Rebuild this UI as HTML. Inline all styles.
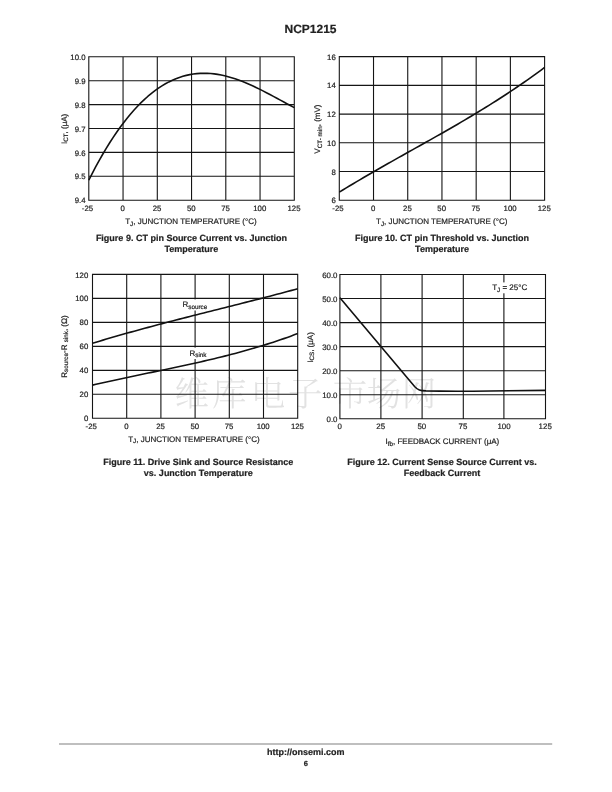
<!DOCTYPE html>
<html lang="en"><head><meta charset="utf-8"><title>NCP1215</title>
<style>
html,body{margin:0;padding:0;background:#fff;}
body{width:612px;height:792px;overflow:hidden;position:relative;}
svg{position:absolute;left:0;top:0;display:block;}
text{font-family:"Liberation Sans","Noto Sans CJK SC",sans-serif;fill:#222;stroke:#222;stroke-width:0.2px;text-rendering:geometricPrecision;}
.k{font-size:7.8px;}
.k4{font-size:7.9px;}
.t{font-size:8px;}
.s{font-size:6.3px;}
.b{font-weight:bold;}
.cap{font-size:9px;font-weight:bold;}
.g{stroke:#151515;stroke-width:1.1;fill:none;}
.c{stroke:#111;stroke-width:1.6;fill:none;stroke-linejoin:round;}
.wm{stroke:none;font-family:"Noto Serif CJK SC","Noto Sans CJK SC",serif;font-weight:300;font-size:34.5px;fill:#e2e2e2;}
</style></head><body>
<svg width="612" height="792" viewBox="0 0 612 792">

<text class="wm" y="406" x="174.4 212.1 250.75 288.1 332.65 366.75 401.65">维库电子市场网</text>
<text class="b" x="310.5" y="33.3" text-anchor="middle" style="font-size:12px">NCP1215</text>
<path class="g" d="M88.80 56.30V200.70M123.05 56.30V200.70M157.30 56.30V200.70M191.55 56.30V200.70M225.80 56.30V200.70M260.05 56.30V200.70M294.30 56.30V200.70M88.30 56.80H294.80M88.30 80.70H294.80M88.30 104.60H294.80M88.30 128.50H294.80M88.30 152.40H294.80M88.30 176.30H294.80M88.30 200.20H294.80"/>
<text class="k" x="87.50" y="211.00" text-anchor="middle">-25</text>
<text class="k" x="122.75" y="211.00" text-anchor="middle">0</text>
<text class="k" x="157.00" y="211.00" text-anchor="middle">25</text>
<text class="k" x="191.25" y="211.00" text-anchor="middle">50</text>
<text class="k" x="225.50" y="211.00" text-anchor="middle">75</text>
<text class="k" x="259.75" y="211.00" text-anchor="middle">100</text>
<text class="k" x="294.00" y="211.00" text-anchor="middle">125</text>
<text class="k" x="85.50" y="59.90" text-anchor="end">10.0</text>
<text class="k" x="85.50" y="83.80" text-anchor="end">9.9</text>
<text class="k" x="85.50" y="107.70" text-anchor="end">9.8</text>
<text class="k" x="85.50" y="131.60" text-anchor="end">9.7</text>
<text class="k" x="85.50" y="155.50" text-anchor="end">9.6</text>
<text class="k" x="85.50" y="179.40" text-anchor="end">9.5</text>
<text class="k" x="85.50" y="203.30" text-anchor="end">9.4</text>
<path class="c" d="M88.80 180.11L92.28 173.27L95.77 166.67L99.25 160.33L102.73 154.23L106.22 148.37L109.70 142.75L113.18 137.37L116.66 132.23L120.15 127.32L123.63 122.65L127.11 118.20L130.60 113.98L134.08 109.99L137.56 106.22L141.05 102.67L144.53 99.34L148.01 96.23L151.49 93.33L154.98 90.64L158.46 88.16L161.94 85.88L165.43 83.80L168.91 81.92L172.39 80.24L175.88 78.74L179.36 77.44L182.84 76.32L186.33 75.38L189.81 74.62L193.29 74.03L196.77 73.61L200.26 73.36L203.74 73.27L207.22 73.33L210.71 73.54L214.19 73.89L217.67 74.39L221.16 75.02L224.64 75.78L228.12 76.67L231.61 77.67L235.09 78.79L238.57 80.01L242.05 81.32L245.54 82.73L249.02 84.23L252.50 85.80L255.99 87.44L259.47 89.14L262.95 90.89L266.44 92.69L269.92 94.53L273.40 96.40L276.88 98.28L280.37 100.17L283.85 102.07L287.33 103.95L290.82 105.81L294.30 107.64"/>
<text class="t" x="125.2" y="223.8">T<tspan class="s" dy="1.8">J</tspan><tspan dy="-1.8">, JUNCTION TEMPERATURE (°C)</tspan></text>
<text class="t" transform="translate(66.5,128.9) rotate(-90)" text-anchor="middle">I<tspan class="s" dy="1.8">CT</tspan><tspan dy="-1.8">, (μA)</tspan></text>
<text class="cap" x="191.4" y="241.1" text-anchor="middle">Figure 9. CT pin Source Current vs. Junction</text>
<text class="cap" x="191.4" y="252.1" text-anchor="middle">Temperature</text>
<path class="g" d="M339.30 56.10V200.80M373.52 56.10V200.80M407.73 56.10V200.80M441.95 56.10V200.80M476.17 56.10V200.80M510.38 56.10V200.80M544.60 56.10V200.80M338.80 56.60H545.10M338.80 85.34H545.10M338.80 114.08H545.10M338.80 142.82H545.10M338.80 171.56H545.10M338.80 200.30H545.10"/>
<text class="k" x="338.00" y="211.00" text-anchor="middle">-25</text>
<text class="k" x="373.22" y="211.00" text-anchor="middle">0</text>
<text class="k" x="407.43" y="211.00" text-anchor="middle">25</text>
<text class="k" x="441.65" y="211.00" text-anchor="middle">50</text>
<text class="k" x="475.87" y="211.00" text-anchor="middle">75</text>
<text class="k" x="510.08" y="211.00" text-anchor="middle">100</text>
<text class="k" x="544.30" y="211.00" text-anchor="middle">125</text>
<text class="k" x="335.80" y="59.70" text-anchor="end">16</text>
<text class="k" x="335.80" y="88.44" text-anchor="end">14</text>
<text class="k" x="335.80" y="117.18" text-anchor="end">12</text>
<text class="k" x="335.80" y="145.92" text-anchor="end">10</text>
<text class="k" x="335.80" y="174.66" text-anchor="end">8</text>
<text class="k" x="335.80" y="203.40" text-anchor="end">6</text>
<path class="c" d="M339.30 192.16L342.78 190.02L346.26 187.90L349.74 185.80L353.22 183.71L356.70 181.64L360.18 179.59L363.66 177.54L367.14 175.51L370.62 173.50L374.10 171.49L377.58 169.49L381.06 167.50L384.54 165.52L388.02 163.55L391.49 161.58L394.97 159.62L398.45 157.66L401.93 155.71L405.41 153.76L408.89 151.81L412.37 149.86L415.85 147.91L419.33 145.96L422.81 144.01L426.29 142.05L429.77 140.10L433.25 138.13L436.73 136.16L440.21 134.19L443.69 132.21L447.17 130.22L450.65 128.22L454.13 126.21L457.61 124.19L461.09 122.16L464.57 120.11L468.05 118.05L471.53 115.98L475.01 113.89L478.49 111.78L481.97 109.66L485.45 107.52L488.93 105.36L492.41 103.18L495.88 100.98L499.36 98.76L502.84 96.51L506.32 94.24L509.80 91.95L513.28 89.63L516.76 87.28L520.24 84.91L523.72 82.51L527.20 80.08L530.68 77.62L534.16 75.13L537.64 72.60L541.12 70.05L544.60 67.46"/>
<text class="t" x="376" y="223.8">T<tspan class="s" dy="1.8">J</tspan><tspan dy="-1.8">, JUNCTION TEMPERATURE (°C)</tspan></text>
<text class="t" transform="translate(320,129.1) rotate(-90)" text-anchor="middle">V<tspan class="s" dy="1.8">CT- min</tspan><tspan dy="-1.8">, (mV)</tspan></text>
<text class="cap" x="442" y="241.1" text-anchor="middle">Figure 10. CT pin Threshold vs. Junction</text>
<text class="cap" x="442" y="252.1" text-anchor="middle">Temperature</text>
<path class="g" d="M92.50 273.90V418.80M126.70 273.90V418.80M160.90 273.90V418.80M195.10 273.90V418.80M229.30 273.90V418.80M263.50 273.90V418.80M297.70 273.90V418.80M92.00 274.40H298.20M92.00 298.38H298.20M92.00 322.37H298.20M92.00 346.35H298.20M92.00 370.33H298.20M92.00 394.32H298.20M92.00 418.30H298.20"/>
<text class="k" x="91.20" y="428.70" text-anchor="middle">-25</text>
<text class="k" x="126.40" y="428.70" text-anchor="middle">0</text>
<text class="k" x="160.60" y="428.70" text-anchor="middle">25</text>
<text class="k" x="194.80" y="428.70" text-anchor="middle">50</text>
<text class="k" x="229.00" y="428.70" text-anchor="middle">75</text>
<text class="k" x="263.20" y="428.70" text-anchor="middle">100</text>
<text class="k" x="297.40" y="428.70" text-anchor="middle">125</text>
<text class="k" x="88.30" y="277.50" text-anchor="end">120</text>
<text class="k" x="88.30" y="301.48" text-anchor="end">100</text>
<text class="k" x="88.30" y="325.47" text-anchor="end">80</text>
<text class="k" x="88.30" y="349.45" text-anchor="end">60</text>
<text class="k" x="88.30" y="373.43" text-anchor="end">40</text>
<text class="k" x="88.30" y="397.42" text-anchor="end">20</text>
<text class="k" x="88.30" y="421.40" text-anchor="end">0</text>
<rect x="181" y="299.4" width="28" height="11.1" fill="#fff"/>
<rect x="188" y="347.6" width="20" height="11.4" fill="#fff"/>
<path class="c" d="M92.50 343.26L95.98 342.21L99.46 341.16L102.93 340.12L106.41 339.09L109.89 338.07L113.37 337.06L116.85 336.05L120.32 335.06L123.80 334.07L127.28 333.09L130.76 332.12L134.24 331.16L137.71 330.20L141.19 329.25L144.67 328.30L148.15 327.36L151.63 326.43L155.10 325.50L158.58 324.58L162.06 323.66L165.54 322.75L169.02 321.84L172.49 320.94L175.97 320.04L179.45 319.14L182.93 318.25L186.41 317.36L189.88 316.47L193.36 315.58L196.84 314.70L200.32 313.82L203.79 312.94L207.27 312.06L210.75 311.18L214.23 310.31L217.71 309.43L221.18 308.55L224.66 307.68L228.14 306.80L231.62 305.92L235.10 305.04L238.57 304.17L242.05 303.28L245.53 302.40L249.01 301.52L252.49 300.63L255.96 299.74L259.44 298.85L262.92 297.95L266.40 297.05L269.88 296.15L273.35 295.24L276.83 294.33L280.31 293.42L283.79 292.50L287.27 291.57L290.74 290.64L294.22 289.70L297.70 288.76"/>
<path class="c" d="M92.50 385.11L95.98 384.31L99.46 383.51L102.93 382.73L106.41 381.95L109.89 381.18L113.37 380.42L116.85 379.67L120.32 378.92L123.80 378.18L127.28 377.44L130.76 376.71L134.24 375.98L137.71 375.25L141.19 374.53L144.67 373.80L148.15 373.08L151.63 372.36L155.10 371.64L158.58 370.92L162.06 370.19L165.54 369.46L169.02 368.73L172.49 368.00L175.97 367.26L179.45 366.52L182.93 365.77L186.41 365.02L189.88 364.25L193.36 363.48L196.84 362.71L200.32 361.92L203.79 361.12L207.27 360.32L210.75 359.50L214.23 358.67L217.71 357.83L221.18 356.97L224.66 356.10L228.14 355.22L231.62 354.32L235.10 353.41L238.57 352.48L242.05 351.53L245.53 350.57L249.01 349.59L252.49 348.59L255.96 347.57L259.44 346.53L262.92 345.46L266.40 344.38L269.88 343.27L273.35 342.15L276.83 340.99L280.31 339.82L283.79 338.62L287.27 337.39L290.74 336.14L294.22 334.86L297.70 333.55"/>
<text class="t" x="128.2" y="441.5">T<tspan class="s" dy="1.8">J</tspan><tspan dy="-1.8">, JUNCTION TEMPERATURE (°C)</tspan></text>
<text class="t" transform="translate(66.5,346.5) rotate(-90)" text-anchor="middle">R<tspan class="s" dy="1.8">source</tspan><tspan dy="-1.8">-R </tspan><tspan class="s" dy="1.8">sink</tspan><tspan dy="-1.8">, (Ω)</tspan></text>
<text class="t" x="182.5" y="306.8">R<tspan class="s" dy="1.8">source</tspan></text>
<text class="t" x="189.5" y="355.6">R<tspan class="s" dy="1.8">sink</tspan></text>
<text class="cap" x="198.3" y="464.6" text-anchor="middle">Figure 11. Drive Sink and Source Resistance</text>
<text class="cap" x="198.3" y="475.6" text-anchor="middle">vs. Junction Temperature</text>
<path class="g" d="M339.90 274.00V419.30M380.90 274.00V419.30M422.10 274.00V419.30M463.30 274.00V419.30M503.90 274.00V419.30M545.50 274.00V419.30M339.40 274.50H546.00M339.40 298.55H546.00M339.40 322.60H546.00M339.40 346.65H546.00M339.40 370.70H546.00M339.40 394.75H546.00M339.40 418.80H546.00"/>
<text class="k4" x="339.60" y="428.60" text-anchor="middle">0</text>
<text class="k4" x="380.72" y="428.60" text-anchor="middle">25</text>
<text class="k4" x="421.84" y="428.60" text-anchor="middle">50</text>
<text class="k4" x="462.96" y="428.60" text-anchor="middle">75</text>
<text class="k4" x="504.08" y="428.60" text-anchor="middle">100</text>
<text class="k4" x="545.20" y="428.60" text-anchor="middle">125</text>
<text class="k4" x="337.50" y="277.60" text-anchor="end">60.0</text>
<text class="k4" x="337.50" y="301.65" text-anchor="end">50.0</text>
<text class="k4" x="337.50" y="325.70" text-anchor="end">40.0</text>
<text class="k4" x="337.50" y="349.75" text-anchor="end">30.0</text>
<text class="k4" x="337.50" y="373.80" text-anchor="end">20.0</text>
<text class="k4" x="337.50" y="397.85" text-anchor="end">10.0</text>
<text class="k4" x="337.50" y="421.90" text-anchor="end">0.0</text>
<path class="c" d="M339.9 297.7L414.8 386.7C418 390 420 390.6 426 390.9C440 391.2 470 391.2 490 391C510 390.8 530 390.5 545.5 390.4"/>
<rect x="490" y="282.4" width="39" height="10.9" fill="#fff"/>
<text class="t" x="492.2" y="290">T<tspan class="s" dy="1.8">J</tspan><tspan dy="-1.8"> = 25°C</tspan></text>
<text class="t" x="385.5" y="444.1">I<tspan class="s" dy="1.8">fb</tspan><tspan dy="-1.8">, FEEDBACK CURRENT (μA)</tspan></text>
<text class="t" transform="translate(312.6,347.5) rotate(-90)" text-anchor="middle">I<tspan class="s" dy="1.8">CS</tspan><tspan dy="-1.8">, (μA)</tspan></text>
<text class="cap" x="442" y="464.6" text-anchor="middle">Figure 12. Current Sense Source Current vs.</text>
<text class="cap" x="442" y="475.6" text-anchor="middle">Feedback Current</text>
<path d="M59 744.1H552.2" stroke="#aaa" stroke-width="1.5" fill="none"/>
<text class="b" x="305.8" y="755.1" text-anchor="middle" style="font-size:9px">http://onsemi.com</text>
<text class="b" x="305.8" y="765.9" text-anchor="middle" style="font-size:7.5px">6</text>
</svg></body></html>
